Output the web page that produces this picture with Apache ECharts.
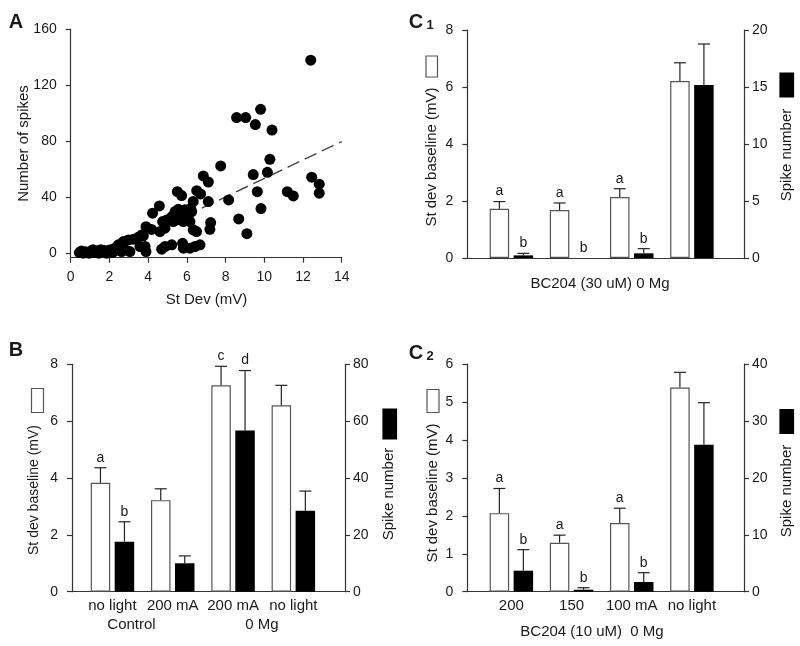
<!DOCTYPE html>
<html><head><meta charset="utf-8">
<script src="https://cdn.jsdelivr.net/npm/echarts@6/dist/echarts.min.js"></script>
<style>html,body{margin:0;padding:0;background:#fff}#c{width:800px;height:646px}</style>
</head><body><div id="c"></div>
<script>
// ---------- Panel A data ----------
const scatterPoints = [
  [0.45,0.5],[0.55,1.5],[0.65,0],[0.75,1],[0.85,0.5],[0.95,0],[1.05,1.5],[1.15,2.5],[1.25,0.5],[1.35,1.5],
  [1.45,0],[1.55,2.5],[1.65,1],[1.75,2],[1.85,0],[1.95,1.5],[2.05,2.5],[2.15,0.5],[2.25,1.5],
  [2.29,3.6],[2.46,6],[2.63,1.2],[2.72,8.3],[2.8,2.4],[2.98,9.5],[3.06,1.2],[3.24,10],[3.49,11.4],[3.58,4.8],
  [3.67,13.1],[3.75,12.4],[3.84,4.8],[3.89,1.2],[3.89,19],[4.18,17],[4.23,28.6],[4.58,33.8],
  [4.61,15.5],[4.75,22.6],[4.87,17.9],[4.96,23.8],[4.7,2.9],[4.87,4.8],[5.22,6],
  [5.22,26],[5.3,22.6],[5.39,29.8],[5.47,23.8],[5.56,31.4],[5.65,26.2],[5.73,29.8],[5.82,22.6],[5.9,31],
  [5.99,25],[6.08,27.4],[6.16,22.6],[6.25,29.8],[6.2,32],[6.33,37],
  [5.51,44],[5.73,41.2],[6.51,44.7],[6.71,42.4],[6.85,55.2],[7.11,50.9],[7.11,36.9],
  [7.23,21.9],[7.19,17.1],[6.33,16.7],[6.5,15.5],
  [5.78,7.1],[5.82,3.6],[6.16,3.6],[6.42,4.8],[6.68,6],
  [7.75,62.4],[8.16,38.1],[8.68,24.5],[9.1,14],
  [8.57,96.9],[9.04,96.9],[9.81,102.8],[9.54,91.9],[10.4,88],
  [10.29,67.1],[10.16,57.8],[9.43,56.2],[9.64,44],[9.83,31.9],
  [11.19,44],[11.5,40.9],[12.4,137.9],[12.45,54.3],[12.84,49.3],[12.84,42.9]
];
const trendLine = [[5.0,20.5],[14,79.8]];
const aYTicks = [0,40,80,120,160];

// ---------- Panel B data ----------
const bCategories = ['no light','200 mA','200 mA','no light'];
const bStDev = [3.83, 3.22, 7.26, 6.56];
const bStDevErr = [0.53, 0.40, 0.67, 0.70];
const bSpikes = [17.6, 10.0, 56.7, 28.5];
const bSpikesErr = [7.0, 2.6, 21.1, 6.9];
const bStDevLetters = ['a','','c',''];
const bSpikesLetters = ['b','','d',''];

// ---------- Panel C1 data ----------
const c1Categories = ['','','',''];
const c1StDev = [1.73, 1.68, 2.14, 6.21];
const c1StDevErr = [0.25, 0.25, 0.29, 0.64];
const c1Spikes = [0.23, 0, 0.41, 15.18];
const c1SpikesErr = [0.18, 0, 0.41, 3.59];
const c1StDevLetters = ['a','a','a',''];
const c1SpikesLetters = ['b','b','b',''];

// ---------- Panel C2 data ----------
const c2Categories = ['200','150','100 mA','no light'];
const c2StDev = [2.07, 1.29, 1.81, 5.38];
const c2StDevErr = [0.65, 0.20, 0.39, 0.40];
const c2Spikes = [3.69, 0.35, 1.7, 25.8];
const c2SpikesErr = [3.69, 0.35, 1.64, 7.4];
const c2StDevLetters = ['a','a','a',''];
const c2SpikesLetters = ['b','b','b',''];

const FONT = '"Liberation Sans", Arial, Helvetica, sans-serif';
const AX = '#333';
const TXT = '#1a1a1a';

const grids = [], xAxes = [], yAxes = [], series = [], graphic = [];

function axisBase(margin) {
  return {
    axisLine: {show: true, onZero: false, lineStyle: {color: AX, width: 1.2}},
    axisTick: {show: true, length: 5, inside: false, lineStyle: {color: AX, width: 1.2}},
    axisLabel: {color: TXT, fontSize: 14, fontFamily: FONT, margin: margin},
    splitLine: {show: false}
  };
}

// ---------- Panel A ----------
grids.push({left: 70.7, top: 29.3, width: 271, height: 228.4});
xAxes.push(Object.assign(axisBase(12), {type: 'value', gridIndex: 0, min: 0, max: 14, interval: 2}));
yAxes.push(Object.assign(axisBase(14), {type: 'value', gridIndex: 0, min: -3.2, max: 160,
  axisTick: {show: true, length: 5, lineStyle: {color: AX, width: 1.2}, customValues: aYTicks}
}));
yAxes[0].axisLabel.customValues = aYTicks;
series.push({type: 'line', xAxisIndex: 0, yAxisIndex: 0, data: trendLine, symbol: 'none', z: 1,
  lineStyle: {color: '#444', width: 1.4, type: [13, 6]}});
series.push({type: 'scatter', xAxisIndex: 0, yAxisIndex: 0, data: scatterPoints, symbolSize: 11, z: 3,
  itemStyle: {color: '#000', opacity: 1}});

// ---------- Bar panels ----------
function errRender(values, errs, letters, offset) {
  return function (params, api) {
    const i = params.dataIndex;
    const v = values[i], e = errs[i];
    const p = api.coord([i, v]);
    const x = p[0] + offset;
    const yTop = p[1];
    const yCap = api.coord([i, v + e])[1];
    const children = [];
    if (e > 0) {
      children.push({type: 'line', shape: {x1: x, y1: yTop, x2: x, y2: yCap}, style: {stroke: '#222', lineWidth: 1.2}});
      children.push({type: 'line', shape: {x1: x - 6, y1: yCap, x2: x + 6, y2: yCap}, style: {stroke: '#222', lineWidth: 1.2}});
    }
    if (letters[i]) {
      children.push({type: 'text', x: x, y: yCap - 3,
        style: {text: letters[i], font: '14px ' + FONT, fill: TXT, align: 'center', verticalAlign: 'bottom'}});
    }
    return {type: 'group', children: children};
  };
}

function barPanel(cfg) {
  const gFrame = grids.length;
  grids.push({left: cfg.left, top: cfg.top, width: cfg.width, height: cfg.height});
  const gBars = grids.length;
  grids.push({left: cfg.barLeft, top: cfg.top, width: cfg.barWidth, height: cfg.height});

  xAxes.push({type: 'value', gridIndex: gFrame, min: 0, max: 1,
    axisLine: {show: true, onZero: false, lineStyle: {color: AX, width: 1.2}},
    axisTick: {show: false}, axisLabel: {show: false}, splitLine: {show: false}});
  const xBars = xAxes.length;
  xAxes.push({type: 'category', gridIndex: gBars, data: cfg.cats,
    axisLine: {show: false}, axisTick: {show: false},
    axisLabel: {show: true, interval: 0, hideOverlap: false, color: TXT, fontSize: 15, fontFamily: FONT, margin: 7},
    splitLine: {show: false}});

  yAxes.push(Object.assign(axisBase(14), {type: 'value', gridIndex: gFrame, position: 'left', min: 0, max: cfg.lMax, interval: cfg.lInt}));
  yAxes.push(Object.assign(axisBase(8), {type: 'value', gridIndex: gFrame, position: 'right', min: 0, max: cfg.rMax, interval: cfg.rInt}));
  const yBL = yAxes.length;
  yAxes.push({type: 'value', gridIndex: gBars, min: 0, max: cfg.lMax, show: false, splitLine: {show: false}});
  const yBR = yAxes.length;
  yAxes.push({type: 'value', gridIndex: gBars, min: 0, max: cfg.rMax, show: false, splitLine: {show: false}});

  series.push({type: 'bar', xAxisIndex: xBars, yAxisIndex: yBL, data: cfg.sd, barWidth: 19.5, barGap: '23%',
    itemStyle: {color: '#fff', borderColor: '#555', borderWidth: 1.2}, z: 2});
  series.push({type: 'bar', xAxisIndex: xBars, yAxisIndex: yBR, data: cfg.spk, barWidth: 19.5, barGap: '23%',
    itemStyle: {color: '#000'}, z: 2});
  series.push({type: 'custom', xAxisIndex: xBars, yAxisIndex: yBL, z: 3,
    data: cfg.sd.map((v, i) => [i, v, cfg.sdErr[i]]),
    renderItem: errRender(cfg.sd, cfg.sdErr, cfg.sdLet, -12)});
  series.push({type: 'custom', xAxisIndex: xBars, yAxisIndex: yBR, z: 3,
    data: cfg.spk.map((v, i) => [i, v, cfg.spkErr[i]]),
    renderItem: errRender(cfg.spk, cfg.spkErr, cfg.spkLet, 12)});
}

barPanel({left: 72, top: 364.3, width: 273, height: 227.4, barLeft: 82.3, barWidth: 241.2,
  cats: bCategories, lMax: 8, lInt: 2, rMax: 80, rInt: 20,
  sd: bStDev, sdErr: bStDevErr, spk: bSpikes, spkErr: bSpikesErr, sdLet: bStDevLetters, spkLet: bSpikesLetters});
barPanel({left: 467.3, top: 30, width: 276.7, height: 228, barLeft: 481.3, barWidth: 240.7,
  cats: c1Categories, lMax: 8, lInt: 2, rMax: 20, rInt: 5,
  sd: c1StDev, sdErr: c1StDevErr, spk: c1Spikes, spkErr: c1SpikesErr, sdLet: c1StDevLetters, spkLet: c1SpikesLetters});
barPanel({left: 467.3, top: 364, width: 276.7, height: 227.7, barLeft: 481.3, barWidth: 240.7,
  cats: c2Categories, lMax: 6, lInt: 1, rMax: 40, rInt: 10,
  sd: c2StDev, sdErr: c2StDevErr, spk: c2Spikes, spkErr: c2SpikesErr, sdLet: c2StDevLetters, spkLet: c2SpikesLetters});

// ---------- texts & legend boxes ----------
function txt(x, y, s, size, opts) {
  opts = opts || {};
  graphic.push({type: 'text', x: x, y: y, rotation: opts.rot || 0, z: 10,
    style: {text: s, font: (opts.bold ? 'bold ' : '') + size + 'px ' + FONT, fill: TXT,
      align: opts.align || 'center', verticalAlign: opts.va || 'middle'}});
}
function box(x, y, w, h, black) {
  graphic.push({type: 'rect', shape: {x: x, y: y, width: w, height: h}, z: 10,
    style: {fill: black ? '#000' : '#fff', stroke: black ? '#000' : '#555', lineWidth: 1.2}});
}
const R = Math.PI / 2;
// Panel A
txt(16, 22, 'A', 20, {bold: true});
txt(23.5, 143.5, 'Number of spikes', 15, {rot: R});
txt(206.5, 300, 'St Dev (mV)', 15);
// Panel B
txt(16, 350, 'B', 20, {bold: true});
txt(34, 490, 'St dev baseline (mV)', 14, {rot: R});
box(31.5, 388.5, 12, 24, false);
txt(389, 494, 'Spike number', 15, {rot: R});
box(383, 409, 13.5, 30, true);
txt(131.5, 625, 'Control', 15);
txt(262, 625, '0 Mg', 15);
// Panel C1
txt(416, 22, 'C', 20, {bold: true});
txt(430, 32, '1', 13, {bold: true, va: 'bottom'});
txt(432, 157, 'St dev baseline (mV)', 15, {rot: R});
box(426, 56, 11.5, 21, false);
txt(787, 155, 'Spike number', 15, {rot: R});
box(780, 73, 13.5, 24, true);
txt(600, 283.5, 'BC204 (30 uM) 0 Mg', 15);
// Panel C2
txt(416, 353, 'C', 20, {bold: true});
txt(430, 363, '2', 13, {bold: true, va: 'bottom'});
txt(433, 493, 'St dev baseline (mV)', 15, {rot: R});
box(427, 389.5, 12, 23, false);
txt(787, 491, 'Spike number', 15, {rot: R});
box(780, 409.5, 13.5, 24, true);
txt(592, 632, 'BC204 (10 uM)  0 Mg', 15);

const chart = echarts.init(document.getElementById('c'), null, {renderer: 'canvas'});
chart.setOption({
  animation: false,
  backgroundColor: '#fff',
  textStyle: {fontFamily: FONT},
  grid: grids, xAxis: xAxes, yAxis: yAxes, series: series, graphic: graphic
});
</script></body></html>
